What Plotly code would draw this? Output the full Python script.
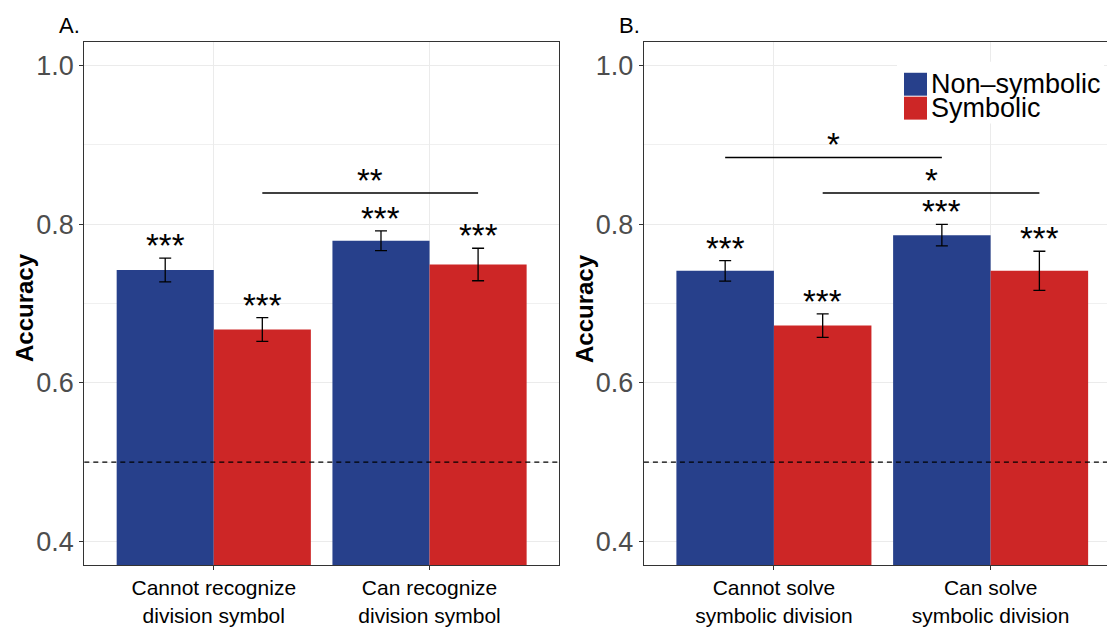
import plotly.graph_objects as go

# ---------------- data ----------------
series_names = ["Non–symbolic", "Symbolic"]
series_colors = ["#27408B", "#CD2626"]

cats_A = ["Cannot recognize<br>division symbol", "Can recognize<br>division symbol"]
nonsym_A = [0.742, 0.779]
nonsym_err_A = [0.015, 0.0125]
sym_A = [0.667, 0.749]
sym_err_A = [0.015, 0.0205]
stars_nonsym_A = ["***", "***"]
stars_sym_A = ["***", "***"]
brackets_A = [  # (x0 category, x0 series, x1 category, x1 series, y, label)
    (0, 1, 1, 1, 0.839, "**"),
]

cats_B = ["Cannot solve<br>symbolic division", "Can solve<br>symbolic division"]
nonsym_B = [0.741, 0.786]
nonsym_err_B = [0.013, 0.0136]
sym_B = [0.672, 0.741]
sym_err_B = [0.0148, 0.0247]
stars_nonsym_B = ["***", "***"]
stars_sym_B = ["***", "***"]
brackets_B = [
    (0, 0, 1, 0, 0.884, "*"),
    (0, 1, 1, 1, 0.839, "*"),
]

panel_labels = ["A.", "B."]
y_title = "Accuracy"
y_ticks = [0.4, 0.6, 0.8, 1.0]
chance = 0.5
y_range = [0.37, 1.03]

# ---------------- layout geometry ----------------
W, H = 1107, 627
FONT = "Liberation Sans, Arial, Helvetica, sans-serif"
OFF = 0.225  # dodge offset
STAR_SIZE = 33

fig = go.Figure()

panels = [
    dict(cats=cats_A, vals=[nonsym_A, sym_A], errs=[nonsym_err_A, sym_err_A],
         stars=[stars_nonsym_A, stars_sym_A], brackets=brackets_A,
         xa="x", ya="y", xdom=[84.3 / W, 559 / W], xrange=[-0.6, 1.6], label=panel_labels[0],
         label_x=57, title_x=24, right_border=True),
    dict(cats=cats_B, vals=[nonsym_B, sym_B], errs=[nonsym_err_B, sym_err_B],
         stars=[stars_nonsym_B, stars_sym_B], brackets=brackets_B,
         xa="x2", ya="y2", xdom=[643.9 / W, 1.0], xrange=[-0.6, -0.6 + (W - 643.9) / 216.7],
         label=panel_labels[1], label_x=617, title_x=584, right_border=False),
]

ydom = [1 - 567 / H, 1 - 41.7 / H]
annotations = []
shapes = []

for pi, p in enumerate(panels):
    for si in range(2):
        fig.add_trace(go.Bar(
            x=p["cats"], y=p["vals"][si], name=series_names[si],
            marker=dict(color=series_colors[si], line=dict(width=0)),
            error_y=dict(type="data", array=p["errs"][si], color="black",
                         thickness=1.3, width=6),
            xaxis=p["xa"], yaxis=p["ya"], showlegend=False,
        ))
        for ci in range(2):
            annotations.append(dict(
                x=ci + (-OFF if si == 0 else OFF),
                y=p["vals"][si][ci] + p["errs"][si][ci],
                xref=p["xa"], yref=p["ya"], text=p["stars"][si][ci], showarrow=False,
                yanchor="bottom", yshift=-8, font=dict(family=FONT, size=STAR_SIZE, color="black")))
    for (c0, s0, c1, s1, yv, lab) in p["brackets"]:
        x0 = c0 + (-OFF if s0 == 0 else OFF)
        x1 = c1 + (-OFF if s1 == 0 else OFF)
        shapes.append(dict(type="line", xref=p["xa"], yref=p["ya"], x0=x0, x1=x1, y0=yv, y1=yv,
                           line=dict(color="black", width=1.5)))
        annotations.append(dict(x=(x0 + x1) / 2, y=yv, xref=p["xa"], yref=p["ya"], text=lab,
                                showarrow=False, yanchor="bottom", yshift=-8,
                                font=dict(family=FONT, size=STAR_SIZE, color="black")))
    # chance line
    shapes.append(dict(type="line", xref=p["xa"] + " domain", yref=p["ya"], x0=0, x1=1,
                       y0=chance, y1=chance, line=dict(color="black", width=1.2, dash="5px,4px"),
                       layer="above"))
    # panel label
    annotations.append(dict(x=p["label_x"] / W, y=1 - 26 / H, xref="paper", yref="paper",
                            text=p["label"], showarrow=False, xanchor="left", yanchor="middle",
                            font=dict(family=FONT, size=22, color="black")))
    # y title
    annotations.append(dict(x=p["title_x"] / W, y=1 - 309 / H, xref="paper", yref="paper",
                            text="<b>" + y_title + "</b>", showarrow=False, textangle=-90,
                            xanchor="center", yanchor="middle",
                            font=dict(family=FONT, size=24, color="black")))

    axis_x = dict(domain=p["xdom"], range=p["xrange"], anchor=p["ya"],
                  showgrid=True, gridcolor="#ebebeb", gridwidth=1,
                  showline=True, linecolor="#333333", linewidth=1.2, mirror=True,
                  ticks="outside", ticklen=4, tickcolor="#333333",
                  tickfont=dict(family=FONT, size=21, color="black"), zeroline=False,
                  fixedrange=True)
    axis_y = dict(domain=ydom, range=y_range, anchor=p["xa"], tickvals=y_ticks,
                  ticktext=["%.1f" % t for t in y_ticks],
                  showgrid=True, gridcolor="#ebebeb", gridwidth=1,
                  minor=dict(dtick=0.1, tick0=0.0, showgrid=True, gridcolor="#f0f0f0", gridwidth=1,
                             ticks=""),
                  showline=True, linecolor="#333333", linewidth=1.2,
                  mirror=p["right_border"], ticks="outside", ticklen=4, tickcolor="#333333",
                  tickfont=dict(family=FONT, size=27, color="#4d4d4d"), zeroline=False,
                  fixedrange=True)
    sfx = "" if pi == 0 else "2"
    fig.layout["xaxis" + sfx] = axis_x
    fig.layout["yaxis" + sfx] = axis_y

# legend (drawn inside panel B)
shapes.append(dict(type="rect", xref="paper", yref="paper", x0=897 / W, x1=1104 / W,
                   y0=1 - 124 / H, y1=1 - 62 / H, fillcolor="white", line=dict(width=0),
                   layer="above"))
for si in range(2):
    top = 73 + 24 * si
    shapes.append(dict(type="rect", xref="paper", yref="paper", x0=904 / W, x1=927 / W,
                       y0=1 - (top + 23) / H, y1=1 - top / H, fillcolor=series_colors[si],
                       line=dict(width=0), layer="above"))
    annotations.append(dict(x=929 / W, y=1 - (top + 11.5) / H, xref="paper", yref="paper",
                            text=series_names[si], showarrow=False, xanchor="left",
                            yanchor="middle", font=dict(family=FONT, size=27, color="black")))

fig.update_layout(
    width=W, height=H, autosize=False,
    margin=dict(l=0, r=0, t=0, b=0),
    paper_bgcolor="white", plot_bgcolor="white",
    barmode="group", bargap=0.1, bargroupgap=0,
    annotations=annotations, shapes=shapes, showlegend=False,
    font=dict(family=FONT),
)

fig.write_html("out.html", config={"displayModeBar": False},
               post_script="document.body.style.margin='0';document.body.style.padding='0';")
